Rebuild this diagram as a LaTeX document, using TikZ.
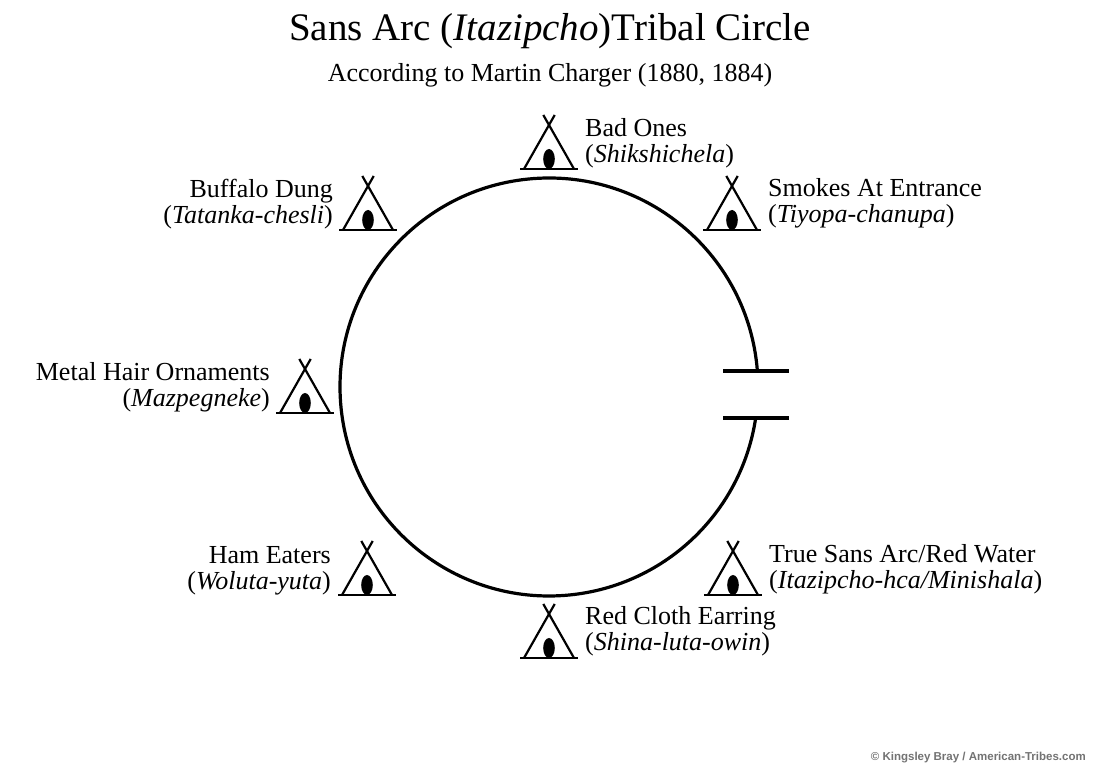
\documentclass[tikz,border=0pt]{standalone}
\usepackage{fontspec}
\setmainfont{Liberation Serif}
\newfontfamily\credfont{Liberation Sans}
\usepackage{tikz}
\usetikzlibrary{positioning}

\tikzset{
  lbl/.style={font=\fontsize{26}{26}\selectfont, inner sep=0pt},
  ring/.style={line width=3.2pt},
  tipi/.pic={
    \draw[line width=2.5pt] (-29,0) -- (29,0);
    \draw[line width=2.2pt] (-25,0) -- (5.7,54);
    \draw[line width=2.2pt] (25,0) -- (-5.7,54);
    \fill (0,10) ellipse (5.8 and 10);
  }
}

\begin{document}
\begin{tikzpicture}[x=1pt,y=1pt]

        \fill[white] (0,0) rectangle (1100,778);
        \useasboundingbox (0,0) rectangle (1100,778);

        \node[font=\fontsize{39}{39}\selectfont, anchor=base] (title) at (550,737) {Sans Arc (\textit{Itazipcho})Tribal Circle};
        \node[lbl, anchor=base] (subtitle) at (550,696) {According to Martin Charger (1880, 1884)};

        \coordinate (c) at (549,391);
        \draw[ring] ([shift={(4.4:209)}]c) arc (4.4:351.5:209);
        \draw[ring] (723,407) -- (789,407);
        \draw[ring] (723,360) -- (789,360);

        \foreach \n/\x/\y in {bad/549/609, smokes/732/548, buffalo/368/548, metal/305/365,
                              ham/367/183, truesans/733/183, redcloth/549/120}
            \pic (t\n) at (\x,\y) {tipi};

        \node[lbl, anchor=base west, align=left] (bad) at (585,615) {Bad Ones\\(\textit{Shikshichela})};
        \node[lbl, anchor=base west, align=left] (smokes) at (768,555) {Smokes At Entrance\\(\textit{Tiyopa-chanupa})};
        \node[lbl, anchor=base east, align=right] (buffalo) at (333,554) {Buffalo Dung\\(\textit{Tatanka-chesli})};
        \node[lbl, anchor=base east, align=right] (metal) at (270,371) {Metal Hair Ornaments\\(\textit{Mazpegneke})};
        \node[lbl, anchor=base east, align=right] (ham) at (331,188) {Ham Eaters\\(\textit{Woluta-yuta})};
        \node[lbl, anchor=base west, align=left] (truesans) at (769,189) {True Sans Arc/Red Water\\(\textit{Itazipcho-hca/Minishala})};
        \node[lbl, anchor=base west, align=left] (redcloth) at (585,127) {Red Cloth Earring\\(\textit{Shina-luta-owin})};

        \node[font=\credfont\bfseries\fontsize{11.5}{11.5}\selectfont, text=black!55, anchor=base east, inner sep=0pt] (credit) at (1086,17) {© Kingsley Bray / American-Tribes.com};

    \end{tikzpicture}
\end{document}
